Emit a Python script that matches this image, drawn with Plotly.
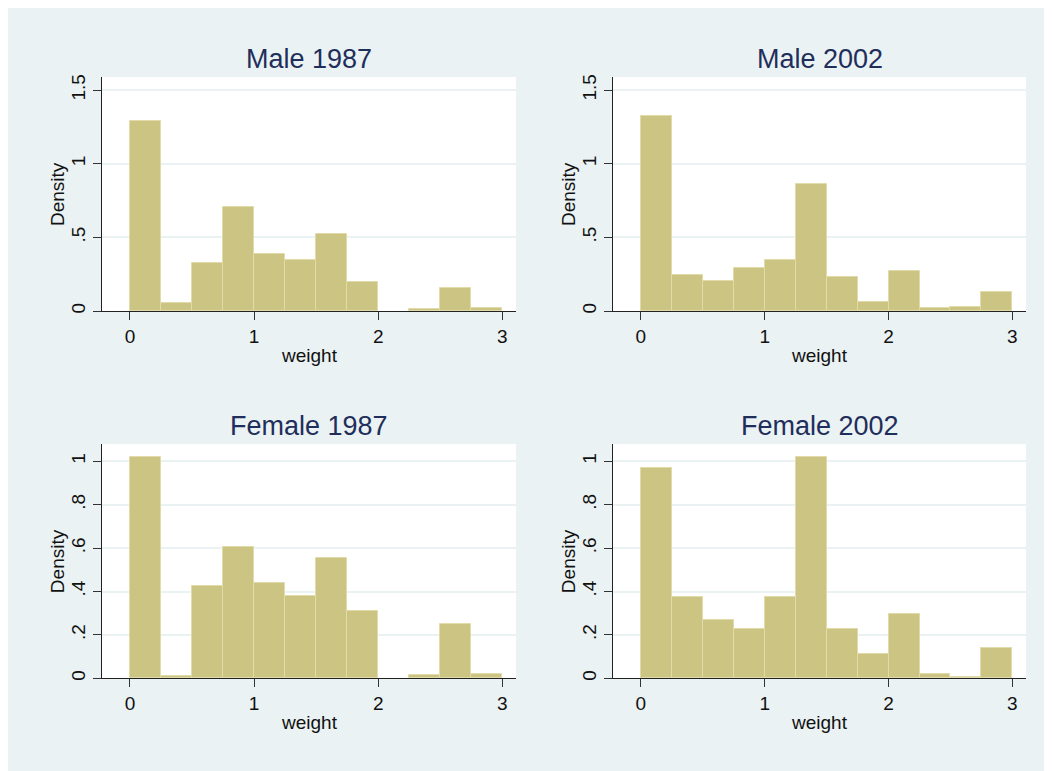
import plotly.graph_objects as go

# ---- data ----
bin_left = [0.0, 0.25, 0.5, 0.75, 1.0, 1.25, 1.5, 1.75, 2.0, 2.25, 2.5, 2.75]
bin_width = 0.25
panel_titles = ["Male 1987", "Male 2002", "Female 1987", "Female 2002"]
male_1987 = [1.290, 0.052, 0.328, 0.704, 0.387, 0.346, 0.525, 0.199, 0.0, 0.013, 0.158, 0.020]
male_2002 = [1.328, 0.247, 0.206, 0.294, 0.348, 0.862, 0.229, 0.063, 0.274, 0.018, 0.027, 0.131]
female_1987 = [1.021, 0.012, 0.427, 0.605, 0.438, 0.379, 0.556, 0.309, 0.0, 0.015, 0.250, 0.018]
female_2002 = [0.968, 0.373, 0.267, 0.226, 0.373, 1.021, 0.227, 0.114, 0.295, 0.018, 0.008, 0.140]
x_tick_vals = [0, 1, 2, 3]
x_tick_text = ["0", "1", "2", "3"]
y_tick_vals_top = [0, 0.5, 1, 1.5]
y_tick_text_top = ["0", ".5", "1", "1.5"]
y_tick_vals_bot = [0, 0.2, 0.4, 0.6, 0.8, 1.0]
y_tick_text_bot = ["0", ".2", ".4", ".6", ".8", "1"]
x_title = "weight"
y_title = "Density"

# ---- style ----
OFF = 8  # page body margin: figure origin sits at page (8, 8)
W, H = 1052 - OFF, 771 - OFF
BG = "#EAF2F3"
BAR = "#CCC483"
BAR_LINE = "#E0DBA9"
TITLE_C = "#1F2E5B"
FONT = "Liberation Sans, Arial, sans-serif"

col_px = [(102, 516), (613, 1026)]
row_px = [(77, 311), (444, 678.3)]
y_ranges = [[0, 1.59], [0, 1.08]]

def fx(px):
    return (px - OFF) / W

def fy(py):
    return 1 - (py - OFF) / H

series = [male_1987, male_2002, female_1987, female_2002]

fig = go.Figure()
annotations = []
for i, vals in enumerate(series):
    r, c = divmod(i, 2)
    n = i + 1
    xa = "x" if n == 1 else f"x{n}"
    ya = "y" if n == 1 else f"y{n}"
    xs = [b for b, v in zip(bin_left, vals) if v > 0]
    ys = [v for v in vals if v > 0]
    fig.add_trace(go.Bar(
        x=xs, y=ys, width=bin_width, offset=0,
        marker=dict(color=BAR, line=dict(color=BAR_LINE, width=1)),
        xaxis=xa, yaxis=ya, showlegend=False, hoverinfo="x+y",
    ))
    x0, x1 = col_px[c]
    y0, y1 = row_px[r]
    yv = y_tick_vals_top if r == 0 else y_tick_vals_bot
    yt = y_tick_text_top if r == 0 else y_tick_text_bot
    xkey = "xaxis" if n == 1 else f"xaxis{n}"
    ykey = "yaxis" if n == 1 else f"yaxis{n}"
    fig.update_layout(**{
        xkey: dict(
            domain=[fx(x0), fx(x1)], range=[-0.225, 3.11], anchor=ya,
            tickmode="array", tickvals=x_tick_vals, ticktext=x_tick_text,
            ticks="outside", ticklen=8, tickcolor="#333333", tickwidth=1,
            showline=True, linecolor="#222222", linewidth=1,
            showgrid=False, zeroline=False,
            tickfont=dict(family=FONT, size=19, color="#111111"),
            fixedrange=True,
        ),
        ykey: dict(
            domain=[fy(y1), fy(y0)], range=y_ranges[r], anchor=xa,
            tickmode="array", tickvals=yv, ticktext=yt, tickangle=-90,
            ticks="outside", ticklen=8, tickcolor="#333333", tickwidth=1,
            showline=True, linecolor="#222222", linewidth=1,
            showgrid=True, gridcolor=BG, gridwidth=1.5, zeroline=False,
            tickfont=dict(family=FONT, size=19, color="#111111"),
            fixedrange=True,
        ),
    })
    cx = (x0 + x1) / 2
    cy = (y0 + y1) / 2
    annotations.append(dict(text=panel_titles[i], x=fx(cx), y=fy(y0 - 18),
                            xref="paper", yref="paper", showarrow=False,
                            xanchor="center", yanchor="middle",
                            font=dict(family=FONT, size=27, color=TITLE_C)))
    annotations.append(dict(text=x_title, x=fx(cx), y=fy(y1 + 44),
                            xref="paper", yref="paper", showarrow=False,
                            xanchor="center", yanchor="middle",
                            font=dict(family=FONT, size=19, color="#111111")))
    annotations.append(dict(text=y_title, x=fx(x0 - 45), y=fy(cy),
                            xref="paper", yref="paper", showarrow=False,
                            xanchor="center", yanchor="middle", textangle=-90,
                            font=dict(family=FONT, size=19, color="#111111")))

fig.update_layout(
    width=W, height=H,
    margin=dict(l=0, r=0, t=0, b=0, autoexpand=False),
    paper_bgcolor=BG, plot_bgcolor="white",
    bargap=0, annotations=annotations,
)

fig.write_html("out.html")
